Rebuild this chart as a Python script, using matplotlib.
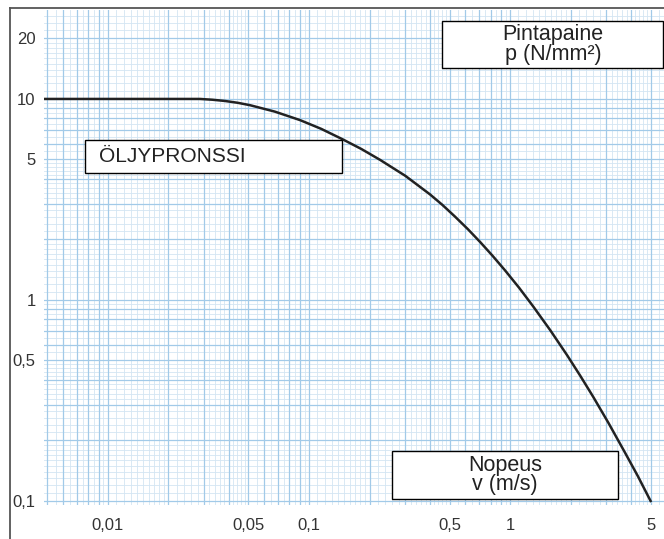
#import python libraries
import numpy as np
import matplotlib
matplotlib.use("Agg")
import matplotlib.pyplot as plt
from matplotlib.patches import Rectangle
from matplotlib.lines import Line2D

#curve: speed v (m/s) and surface pressure p (N/mm2)
speed = [0.0048, 0.0287, 0.0331, 0.0382, 0.0442, 0.0509, 0.0676, 0.0902,
         0.115, 0.146, 0.182, 0.2255, 0.302, 0.400, 0.461, 0.532, 0.617,
         0.709, 0.818, 0.944, 1.11, 1.30, 1.585, 1.92, 2.23, 2.59, 3.09,
         3.73, 4.32, 5.0]
pressure = [10.0, 10.0, 9.91, 9.77, 9.57, 9.31, 8.65, 7.85,
            7.10, 6.32, 5.64, 4.98, 4.14, 3.35, 2.97, 2.60, 2.25,
            1.945, 1.66, 1.404, 1.149, 0.932, 0.707, 0.532, 0.421, 0.330, 0.244,
            0.174, 0.133, 0.1]

#tick values and their labels (finnish decimal comma)
x_ticks = [0.01, 0.05, 0.1, 0.5, 1, 5]
x_labels = ["0,01", "0,05", "0,1", "0,5", "1", "5"]
y_ticks = [0.1, 0.5, 1, 5, 10, 20]
y_labels = ["0,1", "0,5", "1", "5", "10", "20"]

W, H = 664, 539
fig = plt.figure(figsize=(W / 100, H / 100), dpi=100)
ax = fig.add_axes([44 / W, 34 / H, (W - 44) / W, (529 - 34) / H])
ax.set_xscale("log")
ax.set_yscale("log")
ax.set_xlim(0.00481, 5.83)
ax.set_ylim(0.0955, 27.7)

#log paper grid: darker lines on 1..9, fine lines in between
def paper_lines(lo, hi):
    major, minor = [], []
    for e in range(-4, 3):
        base = 10.0 ** e
        for m in range(1, 10):
            major.append(m * base)
        for m in np.arange(1.1, 2.0, 0.1):
            minor.append(m * base)
        for m in np.arange(2.2, 5.0, 0.2):
            minor.append(m * base)
        for m in np.arange(5.5, 10.0, 0.5):
            minor.append(m * base)
    major = [v for v in major if lo <= v <= hi]
    minor = [v for v in minor if lo <= v <= hi]
    return major, minor

xmaj, xmin_ = paper_lines(0.00481, 5.83)
ymaj, ymin_ = paper_lines(0.0955, 27.7)
for v in xmin_:
    ax.axvline(v, color="#d3e5f3", lw=0.6, zorder=1)
for v in ymin_:
    ax.axhline(v, color="#d3e5f3", lw=0.6, zorder=1)
for v in xmaj:
    ax.axvline(v, color="#a2cae8", lw=0.9, zorder=2)
for v in ymaj:
    ax.axhline(v, color="#a2cae8", lw=0.9, zorder=2)

#the curve
ax.plot(speed, pressure, color="#222222", lw=1.8, zorder=5,
        solid_joinstyle="round")

ax.set_xticks(x_ticks)
ax.set_xticklabels(x_labels)
ax.set_yticks(y_ticks)
ax.set_yticklabels(y_labels)
ax.minorticks_off()
ax.tick_params(length=0, labelsize=12, labelcolor="#333333")
ax.tick_params(axis="x", pad=9)
ax.tick_params(axis="y", pad=6)
for lab in ax.get_xticklabels() + ax.get_yticklabels():
    lab.set_fontfamily("Liberation Sans")
for s in ax.spines.values():
    s.set_visible(False)

#outer frame (left and top edges show)
fig.lines.append(Line2D([10 / W, 10 / W], [0, 1 - 8 / H], transform=fig.transFigure,
                        color="#555555", lw=1.3))
fig.lines.append(Line2D([10 / W, 1], [1 - 8 / H, 1 - 8 / H], transform=fig.transFigure,
                        color="#555555", lw=1.3))

#label boxes, given in pixels from the top-left corner
def label_box(x0, y0, x1, y1, text, tx, ha, size):
    fig.patches.append(Rectangle((x0 / W, 1 - y1 / H), (x1 - x0) / W, (y1 - y0) / H,
                                 transform=fig.transFigure, facecolor="white",
                                 edgecolor="black", lw=1.0, zorder=10))
    fig.text(tx / W, 1 - (y0 + y1) / 2 / H, text, ha=ha, va="center",
             fontsize=size, family="Liberation Sans", color="#222222",
             linespacing=0.88, zorder=11)

label_box(442, 21, 663, 68, "Pintapaine\np (N/mm²)", 553, "center", 15.5)
label_box(85, 140, 342, 173, "ÖLJYPRONSSI", 99, "left", 15)
label_box(392, 451, 618, 499, "Nopeus\nv (m/s)", 505, "center", 15.5)

plt.savefig("out.png", dpi=100)
